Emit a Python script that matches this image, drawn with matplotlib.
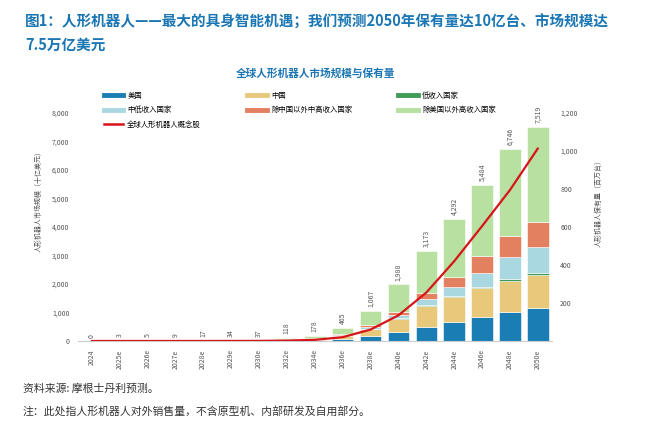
import numpy as np
import matplotlib
matplotlib.use("Agg")
import matplotlib.pyplot as plt
from matplotlib.lines import Line2D

plt.rcParams['font.family'] = ['Noto Sans CJK SC', 'DejaVu Sans']

# Data
years = ['2024', '2025e', '2026e', '2027e', '2028e', '2029e', '2030e', '2032e', '2034e',
         '2036e', '2038e', '2040e', '2042e', '2044e', '2046e', '2048e', '2050e']
totals = [0, 3, 5, 9, 17, 34, 37, 118, 178, 465, 1067, 1988, 3173, 4292, 5484, 6746, 7519]

us = [0, 1, 1, 2, 4, 7, 7, 20, 30, 80, 175, 327, 480, 678, 854, 1029, 1147]
china = [0, 1, 1, 2, 4, 8, 9, 28, 40, 100, 234, 445, 748, 854, 994, 1076, 1169]
low_income = [0, 0, 0, 0, 0, 1, 1, 2, 3, 5, 15, 24, 35, 59, 58, 59, 60]
lower_mid = [0, 0, 0, 1, 1, 2, 2, 7, 10, 25, 78, 116, 199, 315, 492, 772, 913]
upper_mid_ex_cn = [0, 0, 0, 0, 1, 2, 2, 5, 8, 20, 48, 94, 211, 351, 584, 748, 898]
high_ex_us = [t - a - b - c - d - e for t, a, b, c, d, e in
              zip(totals, us, china, low_income, lower_mid, upper_mid_ex_cn)]

installed_base = [0, 0, 0, 0, 0, 0.3, 0.5, 2, 6, 20, 60, 135, 255, 420, 605, 795, 1014]

series_names = ['美国', '中国', '低收入国家', '中低收入国家', '除中国以外中高收入国家', '除美国以外高收入国家']
series_vals = [us, china, low_income, lower_mid, upper_mid_ex_cn, high_ex_us]
colors = ['#1a7db4', '#e8c97c', '#3f9b57', '#a9d8e1', '#e3805f', '#b8e0a0']
line_name = '全球人形机器人概念股'
line_color = '#d7141a'

blue = '#1b76b4'
gray = '#555555'

fig = plt.figure(figsize=(6.5, 4.24), dpi=100)
ax = fig.add_axes([0.1195, 0.1958, 0.7295, 0.5377])
ax2 = ax.twinx()

x = np.arange(len(years))
bottom = np.zeros(len(years))
for vals, col in zip(series_vals, colors):
    ax.bar(x, vals, bottom=bottom, width=0.77, color=col, edgecolor='white', linewidth=0.4)
    bottom += np.array(vals)

for xi, t in zip(x, totals):
    ax.text(xi, t + 120, f'{t:,}', rotation=90, ha='center', va='bottom',
            fontsize=5, color=gray, clip_on=False)

ax2.plot(x, installed_base, color=line_color, lw=1.6, solid_capstyle='round')

ax.set_xlim(-0.5, 16.5)
ax.set_ylim(0, 8000)
ax2.set_ylim(0, 1200)

ax.set_xticks(x)
ax.set_xticklabels(years, rotation=90, fontsize=5, color=gray)
ax.set_yticks(range(0, 8001, 1000))
ax.set_yticklabels([f'{v:,}' for v in range(0, 8001, 1000)], fontsize=5, color=gray)
ax2.set_yticks(range(200, 1201, 200))
ax2.set_yticklabels([f'{v:,}' for v in range(200, 1201, 200)], fontsize=5, color=gray)

for a in (ax, ax2):
    for s in ('top', 'left', 'right'):
        a.spines[s].set_visible(False)
    a.spines['bottom'].set_color('#cccccc')
    a.spines['bottom'].set_linewidth(0.8)
    a.tick_params(length=0, pad=6)
ax2.spines['bottom'].set_visible(False)

fig.text(39 / 650, 1 - 200 / 424, '人形机器人市场规模（十亿美元）', rotation=90,
         ha='center', va='center', fontsize=5, color=gray)
fig.text(599 / 650, 1 - 202 / 424, '人形机器人保有量（百万台）', rotation=90,
         ha='center', va='center', fontsize=5, color=gray)

# legend
handles = [Line2D([], [], color=c, lw=3.5) for c in colors]
handles.append(Line2D([], [], color=line_color, lw=1.8))
labels = series_names + [line_name]
order = [0, 3, 6, 1, 4, 2, 5]
fig.legend([handles[i] for i in order], [labels[i] for i in order], ncol=3,
           loc='upper left', bbox_to_anchor=(100 / 650, 1 - 88 / 424), frameon=False,
           fontsize=5.3, handlelength=2.6, columnspacing=6.3, labelspacing=0.9,
           borderpad=0, handletextpad=0.6)

# titles and notes
fig.text(25 / 650, 1 - 22 / 424, '图1：人形机器人——最大的具身智能机遇；我们预测2050年保有量达10亿台、市场规模达',
         fontsize=10.5, fontweight='bold', color=blue, va='center')
fig.text(25 / 650, 1 - 45 / 424, '7.5万亿美元', fontsize=10.5, fontweight='bold', color=blue, va='center')
fig.text(315 / 650, 1 - 73 / 424, '全球人形机器人市场规模与保有量', fontsize=7.7, fontweight='bold',
         color=blue, ha='center', va='center')
fig.text(23 / 650, 1 - 389 / 424, '资料来源: 摩根士丹利预测。', fontsize=7.8, color='#333333', va='center')
fig.text(23 / 650, 1 - 411 / 424, '注：此处指人形机器人对外销售量，不含原型机、内部研发及自用部分。',
         fontsize=7.8, color='#333333', va='center')

fig.savefig('out.png', dpi=100)
